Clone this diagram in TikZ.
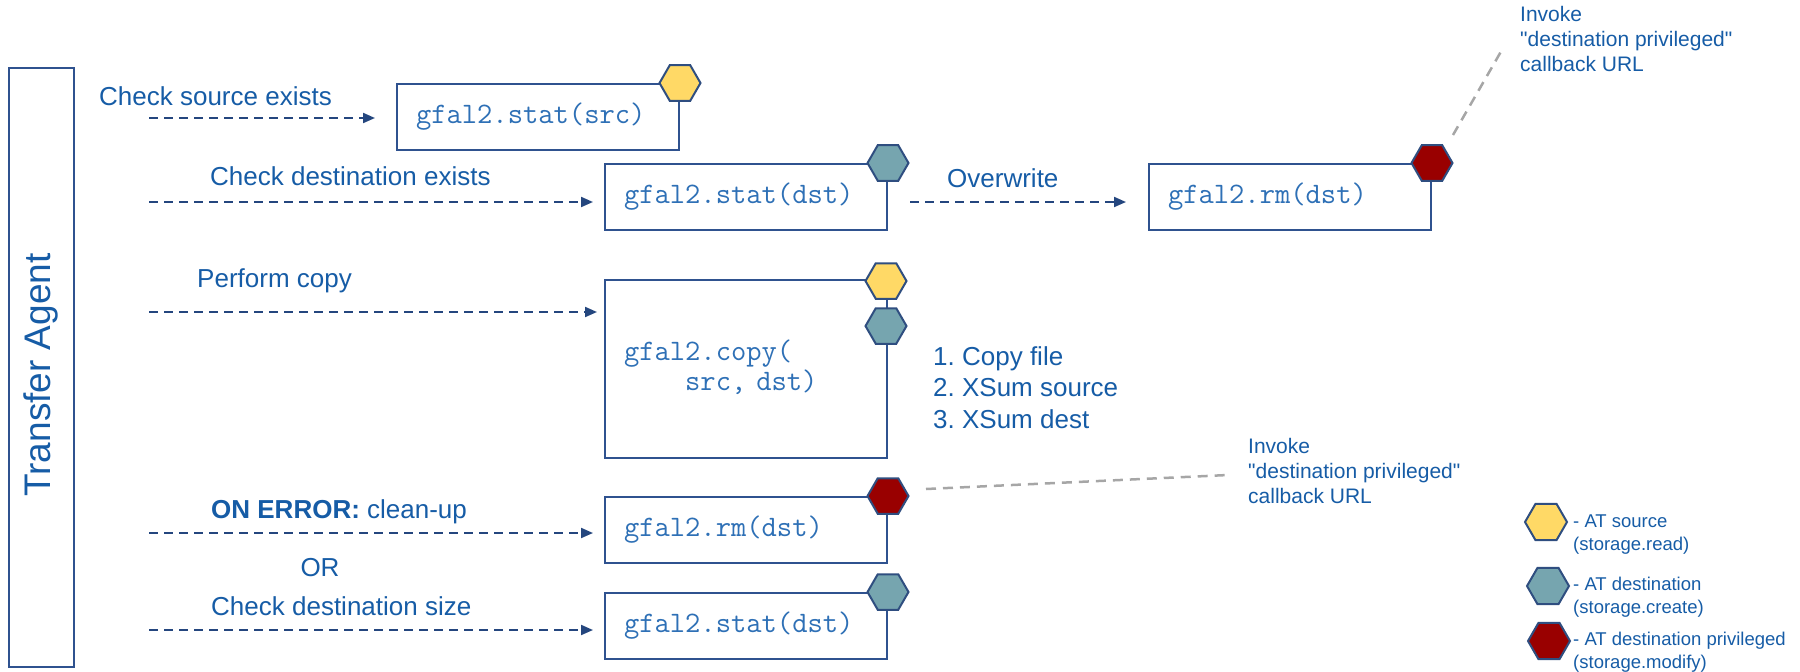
\documentclass[tikz,border=0pt]{standalone}
\usepackage{fontspec}
\setmainfont{Liberation Sans}
\newfontfamily\plainsans{Liberation Sans}
\usetikzlibrary{arrows.meta,shapes.geometric}
\definecolor{txtblue}{RGB}{22,92,166}
\definecolor{codeblue}{RGB}{46,112,182}
\definecolor{boxblue}{RGB}{47,82,143}
\definecolor{arrowblue}{RGB}{36,70,126}
\definecolor{hexborder}{RGB}{47,78,128}
\definecolor{hexyellow}{RGB}{255,217,102}
\definecolor{hexteal}{RGB}{118,165,175}
\definecolor{hexred}{RGB}{153,0,0}
\definecolor{calloutgray}{RGB}{166,166,166}
\newcommand\lblfont{\fontsize{26}{31}\selectfont}
\newcommand\codefont{\ttfamily\fontsize{29.7}{30}\selectfont}
\newcommand\notefont{\plainsans\fontsize{21}{25}\selectfont}
\newcommand\legfont{\fontsize{18.5}{22.5}\selectfont}
\newcommand\tafont{\fontsize{37}{44}\selectfont}
\frenchspacing
\begin{document}
\begin{tikzpicture}[x=1pt,y=-1pt,
  lbl/.style={font=\lblfont,text=txtblue,anchor=base west,inner sep=0pt},
  note/.style={font=\notefont,text=txtblue,anchor=base west,inner sep=0pt,align=left},
  legtext/.style={font=\legfont,text=txtblue,anchor=base west,inner sep=0pt,align=left},
  codebox/.style={draw=boxblue,line width=2pt,fill=white,anchor=north west,
    minimum width=282pt,text width=244pt,inner xsep=19pt,inner ysep=0pt,
    align=left,font=\codefont,text=codeblue},
  hexbase/.style={regular polygon,regular polygon sides=6,minimum size=41pt,
    inner sep=0pt,draw=hexborder,line width=2pt},
  hexY/.style={hexbase,fill=hexyellow},
  hexT/.style={hexbase,fill=hexteal},
  hexR/.style={hexbase,fill=hexred},
  flow/.style={draw=arrowblue,line width=2pt,dash pattern=on 9pt off 6pt,
    -{Triangle[length=12pt,width=10pt]}},
  callout/.style={draw=calloutgray,line width=2.5pt,dash pattern=on 10pt off 7pt},
]
\useasboundingbox (0,0) rectangle (1800,672);

% Transfer Agent
\node[draw=boxblue,line width=2pt,minimum width=65pt,minimum height=599pt,
  anchor=north west,inner sep=0pt] (ta) at (8,67) {};
\node[rotate=90,font=\tafont,text=txtblue,inner sep=0pt] (tatext) at (41,375) {Transfer Agent};

% code boxes
\node[codebox,minimum height=66pt] (src) at (396,83) {gfal2.stat(src)};
\node[codebox,minimum height=66pt] (dst) at (604,163) {gfal2.stat(dst)};
\node[codebox,minimum height=66pt] (rmA) at (1148,163) {gfal2.rm(dst)};
\node[codebox,minimum height=178pt] (cp) at (604,279) {gfal2.copy(\\\phantom{gfal}src, dst)};
\node[codebox,minimum height=66pt] (rmB) at (604,496) {gfal2.rm(dst)};
\node[codebox,minimum height=66pt] (st2) at (604,592) {gfal2.stat(dst)};

% hexagons
\node[hexY] (hsrc) at (src.north east) {};
\node[hexT] (hdst) at (dst.north east) {};
\node[hexR] (hrmA) at (rmA.north east) {};
\node[hexY] (hcpY) at (886,281) {};
\node[hexT] (hcpT) at (886,326) {};
\node[hexR] (hrmB) at (rmB.north east) {};
\node[hexT] (hst2) at (st2.north east) {};

% labels
\node[lbl] (l1) at (99,105) {Check source exists};
\node[lbl] (l2) at (210,185) {Check destination exists};
\node[lbl] (lo) at (947,187) {Overwrite};
\node[lbl] (l3) at (197,287) {Perform copy};
\node[lbl] (l4) at (211,518) {\textbf{ON ERROR:} clean-up};
\node[lbl,anchor=base] (lor) at (320,576) {OR};
\node[lbl] (l5) at (211,615) {Check destination size};
\node[lbl,align=left,font=\fontsize{26}{31.5}\selectfont] (steps) at (933,428)
  {1. Copy file\\2. XSum source\\3. XSum dest};

% arrows
\coordinate (a1) at (149,118);
\coordinate (a2) at (149,202);
\coordinate (a3) at (149,312);
\coordinate (a4) at (149,533);
\coordinate (a5) at (149,630);
\draw[flow,shorten >=21pt] (a1) -- (a1 -| src.west);
\draw[flow,shorten >=11pt] (a2) -- (a2 -| dst.west);
\draw[flow,shorten >=22pt,shorten <=22pt] (a2 -| dst.east) -- (a2 -| rmA.west);
\draw[flow,shorten >=7pt] (a3) -- (a3 -| cp.west);
\draw[flow,shorten >=11pt] (a4) -- (a4 -| rmB.west);
\draw[flow,shorten >=11pt] (a5) -- (a5 -| st2.west);

% callouts
\node[note] (n1) at (1520,71) {Invoke\\"destination privileged"\\callback URL};
\node[note] (n2) at (1248,503) {Invoke\\"destination privileged"\\callback URL};
\coordinate (c1s) at (1453,135);
\coordinate (c1e) at (1503,48);
\coordinate (c2s) at (926,489);
\coordinate (c2e) at (1228,475);
\draw[callout] (c1s) -- (c1e);
\draw[callout] (c2s) -- (c2e);

% legend
\node[hexY,minimum size=42pt] (kY) at (1546,522) {};
\node[hexT,minimum size=42pt] (kT) at (1548,586) {};
\node[hexR,minimum size=42pt] (kR) at (1549,641) {};
\node[legtext] (tY) at (1573,550) {- AT source\\(storage.read)};
\node[legtext] (tT) at (1573,613) {- AT destination\\(storage.create)};
\node[legtext] (tR) at (1573,668) {- AT destination privileged\\(storage.modify)};
\end{tikzpicture}
\end{document}
